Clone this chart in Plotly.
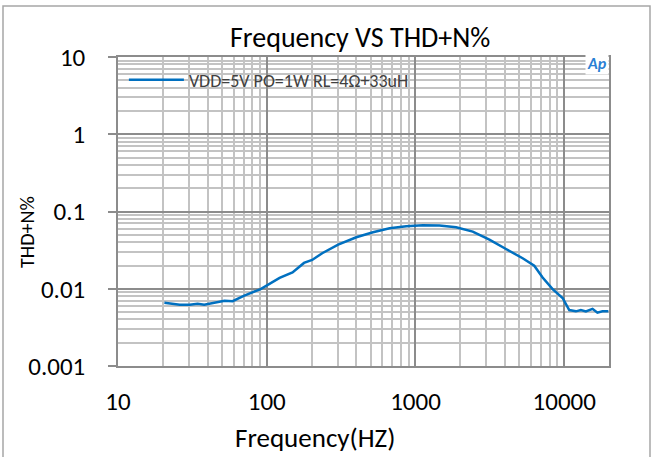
import plotly.graph_objects as go
import numpy as np

freq = [20.5, 26, 30.4, 34.3, 38, 44, 52, 59, 70, 91, 122, 149, 178, 202, 236, 302,
        400, 518, 670, 867, 1120, 1449, 1875, 2426, 3139, 4061, 5253, 6288, 7156,
        8355, 9750, 10811, 11980, 12940, 13990, 15500, 16720, 18070, 19800]
thdn = [0.0066, 0.0062, 0.0062, 0.0064, 0.0062, 0.0065, 0.0070, 0.0069, 0.0081,
        0.0099, 0.0138, 0.0163, 0.0216, 0.0236, 0.0288, 0.0372,
        0.0464, 0.0538, 0.0607, 0.0644, 0.0664, 0.0660, 0.0625, 0.0550, 0.0433,
        0.0327, 0.0248, 0.0199, 0.0140, 0.0099, 0.0076, 0.0053, 0.0051, 0.0053,
        0.0051, 0.0055, 0.0049, 0.0051, 0.0051]

x_ticks = [10, 100, 1000, 10000]
x_tick_labels = ["10", "100", "1000", "10000"]
y_ticks = [0.001, 0.01, 0.1, 1, 10]
y_tick_labels = ["0.001", "0.01", "0.1", "1", "10"]

series_name = "VDD=5V PO=1W RL=4Ω+33uH"
title_text = "Frequency VS THD+N%"
x_title = "Frequency(HZ)"
y_title = "THD+N%"

FONT = "Carlito, Open Sans, Noto Sans, sans-serif"

fig = go.Figure()
fig.add_trace(go.Scatter(x=freq, y=thdn, mode="lines", name=series_name,
                         line=dict(color="#0070C0", width=2.5)))

minor_col = "#c3c3c3"
major_col = "#8c8c8c"

fig.update_xaxes(type="log", range=[1, np.log10(20000)],
                 tickvals=x_ticks, ticktext=x_tick_labels,
                 showgrid=True, gridcolor=major_col, gridwidth=1.5,
                 minor=dict(dtick="D1", showgrid=True, gridcolor=minor_col, gridwidth=1.5, ticks=""),
                 ticks="", ticklabelstandoff=12,
                 showline=True, linecolor=major_col, linewidth=1.5, mirror=True,
                 tickfont=dict(family=FONT, size=25, color="#000000"),
                 zeroline=False)
fig.update_yaxes(type="log", range=[-3, 1],
                 tickvals=y_ticks, ticktext=y_tick_labels,
                 showgrid=True, gridcolor=major_col, gridwidth=1.5,
                 minor=dict(dtick="D1", showgrid=True, gridcolor=minor_col, gridwidth=1.5, ticks=""),
                 ticks="outside", ticklen=8, tickcolor=major_col, tickwidth=1.5,
                 ticklabelstandoff=18,
                 showline=True, linecolor=major_col, linewidth=1.5, mirror=True,
                 tickfont=dict(family=FONT, size=25, color="#000000"),
                 zeroline=False)

W, H = 654, 457
L, R, T, B = 118, 45, 57, 91
pw, ph = W - L - R, H - T - B

def px2paper(px, py):
    return (px - L) / pw, (H - B - py) / ph

x0, y0 = px2paper(3, 470)
x1, y1 = px2paper(650, 6)

fig.update_layout(
    width=W, height=H,
    margin=dict(l=L, r=R, t=T, b=B),
    paper_bgcolor="white", plot_bgcolor="white",
    font=dict(family=FONT, color="#000000"),
    showlegend=True,
    legend=dict(x=0.012, y=0.985, xanchor="left", yanchor="top",
                bgcolor="rgba(0,0,0,0)", font=dict(family=FONT, size=18, color="#404040"),
                itemwidth=55),
    shapes=[dict(type="rect", xref="paper", yref="paper", x0=x0, y0=y0, x1=x1, y1=y1,
                 line=dict(color="#a6a6a6", width=1.5), layer="below")],
)

ann = []
tx, ty = px2paper(360, 38)
ann.append(dict(text=title_text, x=tx, y=ty, xref="paper", yref="paper", showarrow=False,
                font=dict(family=FONT, size=28, color="#000000"), xanchor="center", yanchor="middle"))
ax, ay = px2paper(315, 438)
ann.append(dict(text=x_title, x=ax, y=ay, xref="paper", yref="paper", showarrow=False,
                font=dict(family=FONT, size=27, color="#000000"), xanchor="center", yanchor="middle"))
bx, by = px2paper(27, 232)
ann.append(dict(text=y_title, x=bx, y=by, xref="paper", yref="paper", showarrow=False, textangle=-90,
                font=dict(family=FONT, size=20, color="#000000"), xanchor="center", yanchor="middle"))
lx, ly = px2paper(597, 63)
ann.append(dict(text="<b><i>Ap</i></b>", x=lx, y=ly, xref="paper", yref="paper", showarrow=False,
                font=dict(family=FONT, size=16, color="#2a7fd4"), xanchor="center", yanchor="middle",
                bgcolor="white"))
fig.update_layout(annotations=ann)

fig.write_html("out.html", config={"displayModeBar": False},
               post_script="document.body.style.margin='0px';")
